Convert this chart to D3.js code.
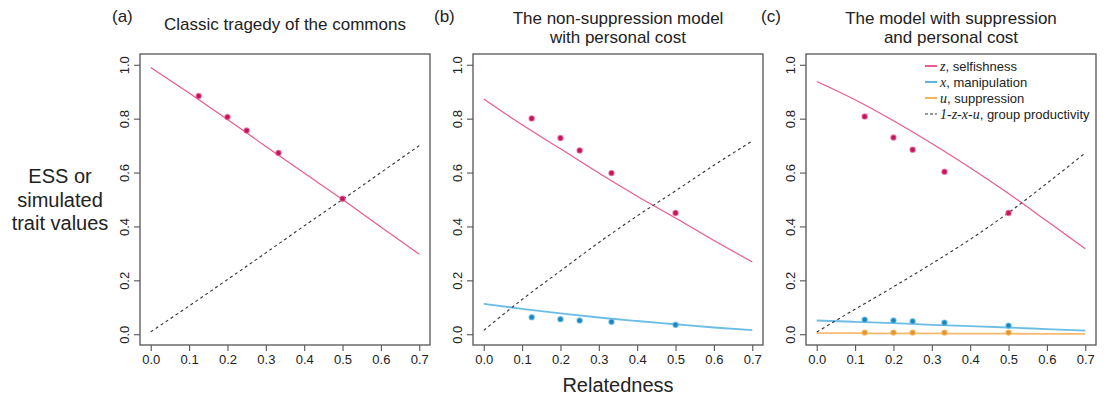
<!DOCTYPE html>
<html>
<head>
<meta charset="utf-8">
<script src="https://cdn.jsdelivr.net/npm/d3@7/dist/d3.min.js"></script>
<style>
  html, body { margin: 0; padding: 0; background: #fff; }
  svg { display: block; font-family: "Liberation Sans", Arial, Helvetica, sans-serif; }
</style>
</head>
<body>
<svg id="chart" width="1108" height="401"></svg>
<script>
// Relatedness grid for the analytical (ESS) curves
const relatedness = [0, 0.1, 0.2, 0.3, 0.4, 0.5, 0.6, 0.7];
// Relatedness values used in the simulations
const simRelatedness = [0.125, 0.2, 0.25, 0.333, 0.5];

// (a) Classic tragedy of the commons
const aSelfish = [0.99, 0.895, 0.797, 0.697, 0.598, 0.5, 0.398, 0.297];
const aProductivity = [0.009, 0.105, 0.203, 0.302, 0.402, 0.5, 0.6, 0.7];
const aSimSelfish = [0.884, 0.806, 0.756, 0.673, 0.503];

// (b) Non-suppression model with personal cost
const bSelfish = [0.873, 0.777, 0.688, 0.598, 0.512, 0.431, 0.348, 0.268];
const bManip = [0.113, 0.094, 0.077, 0.062, 0.049, 0.037, 0.025, 0.015];
const bProductivity = [0.014, 0.129, 0.235, 0.34, 0.439, 0.532, 0.627, 0.717];
const bSimSelfish = [0.801, 0.728, 0.682, 0.598, 0.45];
const bSimManip = [0.063, 0.056, 0.051, 0.046, 0.035];

// (c) Model with suppression and personal cost
const cSelfish = [0.938, 0.87, 0.792, 0.708, 0.618, 0.522, 0.42, 0.317];
const cManip = [0.051, 0.046, 0.041, 0.035, 0.03, 0.025, 0.019, 0.013];
const cSuppr = [0.004, 0.004, 0.003, 0.003, 0.002, 0.002, 0.001, 0.001];
const cProductivity = [0.008, 0.093, 0.176, 0.262, 0.352, 0.451, 0.56, 0.673];
const cSimSelfish = [0.808, 0.73, 0.685, 0.603, 0.45];
const cSimManip = [0.054, 0.051, 0.048, 0.043, 0.032];
const cSimSuppr = [0.006, 0.006, 0.006, 0.006, 0.006];

const xTicks = [0, 0.1, 0.2, 0.3, 0.4, 0.5, 0.6, 0.7];
const yTicks = [0, 0.2, 0.4, 0.6, 0.8, 1.0];

const panelLabels = ["(a)", "(b)", "(c)"];
const panelTitles = [
  ["Classic tragedy of the commons"],
  ["The non-suppression model", "with personal cost"],
  ["The model with suppression", "and personal cost"]
];

const legendItems = [
  { sym: "z", text: ", selfishness", key: "z" },
  { sym: "x", text: ", manipulation", key: "x" },
  { sym: "u", text: ", suppression", key: "u" },
  { sym: "1-z-x-u", text: ", group productivity", key: "p" }
];

const colors = {
  z: "#ea5a8e", zPt: "#c0145c",
  x: "#5cb6e2", xPt: "#1a86bd",
  u: "#f6b25e", uPt: "#e3952f",
  p: "#333333",
  axis: "#555555"
};

const panels = [
  {
    curves: [
      { key: "z", values: aSelfish },
      { key: "p", values: aProductivity }
    ],
    points: [{ key: "z", values: aSimSelfish }]
  },
  {
    curves: [
      { key: "z", values: bSelfish },
      { key: "x", values: bManip },
      { key: "p", values: bProductivity }
    ],
    points: [
      { key: "z", values: bSimSelfish },
      { key: "x", values: bSimManip }
    ]
  },
  {
    curves: [
      { key: "z", values: cSelfish },
      { key: "x", values: cManip },
      { key: "u", values: cSuppr },
      { key: "p", values: cProductivity }
    ],
    points: [
      { key: "z", values: cSimSelfish },
      { key: "x", values: cSimManip },
      { key: "u", values: cSimSuppr }
    ],
    legend: true
  }
];

const svg = d3.select("#chart");
const boxLefts = [140, 473, 806];
const boxW = 290;
const boxTop = 54, boxBottom = 345;

// Plot region extends 4% beyond the data range on each side
const xDom = [-0.028, 0.728];
const yDom = [-0.04, 1.04];

panels.forEach((p, i) => {
  const left = boxLefts[i];
  const x = d3.scaleLinear().domain(xDom).range([left, left + boxW]);
  const y = d3.scaleLinear().domain(yDom).range([boxBottom, boxTop]);
  const g = svg.append("g");

  // frame
  g.append("rect")
    .attr("x", left).attr("y", boxTop)
    .attr("width", boxW).attr("height", boxBottom - boxTop)
    .attr("fill", "none").attr("stroke", colors.axis).attr("stroke-width", 1.3);

  // x axis
  const xAxis = d3.axisBottom(x).tickValues(xTicks).tickFormat(d3.format(".1f"))
    .tickSize(6).tickPadding(4).tickSizeOuter(0);
  const gx = g.append("g").attr("transform", `translate(0,${boxBottom})`).call(xAxis);
  gx.select(".domain").remove();
  gx.selectAll("line").attr("stroke", colors.axis).attr("stroke-width", 1.1);
  gx.selectAll("text").attr("font-size", 13).attr("fill", "#222")
    .attr("font-family", "'Liberation Sans', Arial, sans-serif");

  // y axis with labels turned parallel to the axis
  const yAxis = d3.axisLeft(y).tickValues(yTicks).tickFormat(d3.format(".1f"))
    .tickSize(6).tickSizeOuter(0);
  const gy = g.append("g").attr("transform", `translate(${left},0)`).call(yAxis);
  gy.select(".domain").remove();
  gy.selectAll("line").attr("stroke", colors.axis).attr("stroke-width", 1.1);
  gy.selectAll("text")
    .attr("font-size", 13).attr("fill", "#222")
    .attr("font-family", "'Liberation Sans', Arial, sans-serif")
    .attr("x", null).attr("dy", null)
    .attr("text-anchor", "middle")
    .attr("transform", "translate(-12,0) rotate(-90)")
    .attr("dy", "0.1em");

  // curves
  const line = d3.line()
    .x((d, k) => x(relatedness[k]))
    .y(d => y(d))
    .curve(d3.curveMonotoneX);

  p.curves.forEach(c => {
    const path = g.append("path")
      .datum(c.values)
      .attr("d", line)
      .attr("fill", "none")
      .attr("stroke", colors[c.key]);
    if (c.key === "p") {
      path.attr("stroke-dasharray", "3,3").attr("stroke-width", 1.1);
    } else if (c.key === "z") {
      path.attr("stroke-width", 1.2);
    } else {
      path.attr("stroke-width", 1.8).attr("stroke-opacity", 0.9);
    }
  });

  // simulation results
  p.points.forEach(s => {
    g.selectAll(null)
      .data(s.values)
      .enter().append("circle")
      .attr("cx", (d, k) => x(simRelatedness[k]))
      .attr("cy", d => y(d))
      .attr("r", 2.6)
      .attr("fill", colors[s.key + "Pt"])
      .attr("stroke", colors[s.key])
      .attr("stroke-opacity", 0.7)
      .attr("stroke-width", 1.2);
  });

  // panel letter and title
  const cx = left + boxW / 2;
  g.append("text")
    .attr("x", left - 28 + (i === 0 ? 0 : i === 1 ? -11 : -17)).attr("y", 22)
    .attr("font-size", 17).attr("fill", "#222")
    .text(panelLabels[i]);
  const lines = panelTitles[i];
  lines.forEach((t, k) => {
    g.append("text")
      .attr("x", cx)
      .attr("y", lines.length === 1 ? 30 : 24 + k * 19)
      .attr("text-anchor", "middle")
      .attr("font-size", 17).attr("fill", "#222")
      .text(t);
  });

  if (p.legend) {
    const lx = 925, ly0 = 66, step = 16;
    legendItems.forEach((it, k) => {
      const yy = ly0 + k * step;
      const ln = g.append("line")
        .attr("x1", lx).attr("x2", lx + 12)
        .attr("y1", yy).attr("y2", yy)
        .attr("stroke", colors[it.key]);
      if (it.key === "p") {
        ln.attr("stroke-dasharray", "3,2").attr("stroke-width", 1.1);
      } else {
        ln.attr("stroke-width", 2);
      }
      const t = g.append("text")
        .attr("x", lx + 15).attr("y", yy + 4.5)
        .attr("font-size", 13).attr("fill", "#222");
      t.append("tspan")
        .attr("font-family", "'Liberation Serif', 'Times New Roman', serif")
        .attr("font-style", "italic")
        .attr("font-size", 14)
        .text(it.sym);
      t.append("tspan").text(it.text);
    });
  }
});

// shared axis titles
const yTitle = ["ESS or", "simulated", "trait values"];
yTitle.forEach((t, k) => {
  svg.append("text")
    .attr("x", 60).attr("y", 183 + k * 23.5)
    .attr("text-anchor", "middle")
    .attr("font-size", 20).attr("fill", "#222")
    .text(t);
});
svg.append("text")
  .attr("x", 618).attr("y", 392)
  .attr("text-anchor", "middle")
  .attr("font-size", 20).attr("fill", "#222")
  .text("Relatedness");
</script>
</body>
</html>
